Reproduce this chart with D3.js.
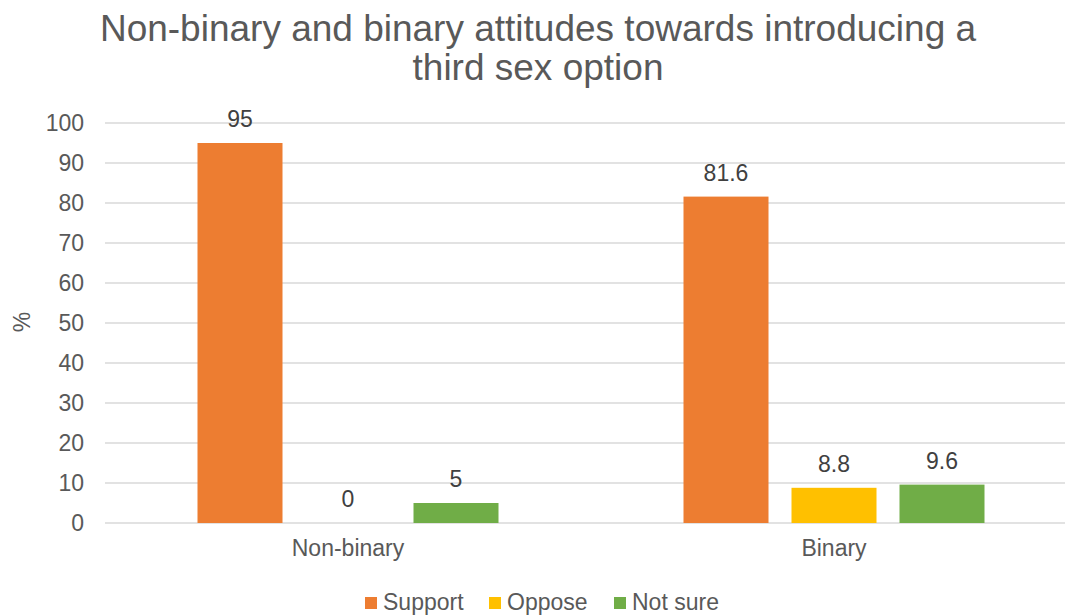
<!DOCTYPE html>
<html>
<head>
<meta charset="utf-8">
<script src="https://cdn.jsdelivr.net/npm/d3@7"></script>
<style>
  html, body { margin: 0; padding: 0; background: #fff; }
  svg { display: block; font-family: "Liberation Sans", Arial, sans-serif; }
</style>
</head>
<body>
<svg id="chart" width="1065" height="616"></svg>
<script>
// Survey responses (%) by group
const categories = ["Non-binary", "Binary"];
const seriesNames = ["Support", "Oppose", "Not sure"];
const support = [95, 81.6];
const oppose = [0, 8.8];
const notSure = [5, 9.6];
const yTicks = [0, 10, 20, 30, 40, 50, 60, 70, 80, 90, 100];
const colors = ["#ED7D31", "#FFC000", "#70AD47"];

const seriesValues = [support, oppose, notSure];
const rows = categories.map((c, i) => ({
  category: c,
  values: seriesNames.map((s, j) => ({ series: s, value: seriesValues[j][i], color: colors[j] }))
}));

const svg = d3.select("#chart");
const textColor = "#595959";
const fontSize = 23;

const plot = { left: 105, right: 1077, top: 123, bottom: 523 };

const y = d3.scaleLinear().domain([0, 100]).range([plot.bottom, plot.top]);
const x0 = d3.scaleBand().domain(categories).range([plot.left, plot.right]).padding(0);
const groupWidth = 301;
const x1 = d3.scaleBand()
  .domain(seriesNames)
  .range([(x0.bandwidth() - groupWidth) / 2, (x0.bandwidth() + groupWidth) / 2])
  .paddingInner(23 / 108)
  .paddingOuter(0);

// Title
const title = svg.append("text")
  .attr("x", 538).attr("text-anchor", "middle")
  .attr("fill", textColor).attr("font-size", 37);
title.append("tspan").attr("x", 538).attr("y", 41).text("Non-binary and binary attitudes towards introducing a");
title.append("tspan").attr("x", 538).attr("y", 80).text("third sex option");

// Gridlines
svg.append("g")
  .selectAll("line").data(yTicks).join("line")
  .attr("x1", plot.left).attr("x2", plot.right)
  .attr("y1", d => y(d)).attr("y2", d => y(d))
  .attr("stroke", "#d9d9d9").attr("stroke-width", 1.5);

// Y axis labels
const yAxis = svg.append("g")
  .attr("transform", `translate(${plot.left},0)`)
  .call(d3.axisLeft(y).tickValues(yTicks).tickSize(0).tickPadding(21));
yAxis.select(".domain").remove();
yAxis.selectAll("text")
  .attr("fill", textColor).attr("font-size", fontSize)
  .attr("font-family", "Liberation Sans, Arial, sans-serif");

// Y axis title
svg.append("text")
  .attr("transform", "translate(30,322) rotate(-90)")
  .attr("text-anchor", "middle")
  .attr("fill", textColor).attr("font-size", fontSize)
  .text("%");

// Bars
const groups = svg.append("g").selectAll("g").data(rows).join("g")
  .attr("transform", d => `translate(${x0(d.category)},0)`);

groups.selectAll("rect").data(d => d.values).join("rect")
  .attr("x", d => x1(d.series))
  .attr("width", x1.bandwidth())
  .attr("y", d => y(d.value))
  .attr("height", d => y(0) - y(d.value))
  .attr("fill", d => d.color);

// Data labels
groups.selectAll("text.value").data(d => d.values).join("text")
  .attr("class", "value")
  .attr("x", d => x1(d.series) + x1.bandwidth() / 2)
  .attr("y", d => y(d.value) - 16)
  .attr("text-anchor", "middle")
  .attr("fill", "#404040").attr("font-size", fontSize)
  .text(d => d.value);

// Category axis labels
const xAxis = svg.append("g")
  .attr("transform", `translate(0,${plot.bottom})`)
  .call(d3.axisBottom(x0).tickSize(0).tickPadding(17));
xAxis.select(".domain").remove();
xAxis.selectAll("text")
  .attr("fill", textColor).attr("font-size", fontSize)
  .attr("font-family", "Liberation Sans, Arial, sans-serif");

// Legend
const legendX = [365, 489, 614];
const legend = svg.append("g").selectAll("g").data(seriesNames).join("g")
  .attr("transform", (d, i) => `translate(${legendX[i]},597)`);
legend.append("rect")
  .attr("width", 12).attr("height", 12)
  .attr("fill", (d, i) => colors[i]);
legend.append("text")
  .attr("x", 18).attr("y", 13)
  .attr("fill", textColor).attr("font-size", fontSize)
  .text(d => d);
</script>
</body>
</html>
